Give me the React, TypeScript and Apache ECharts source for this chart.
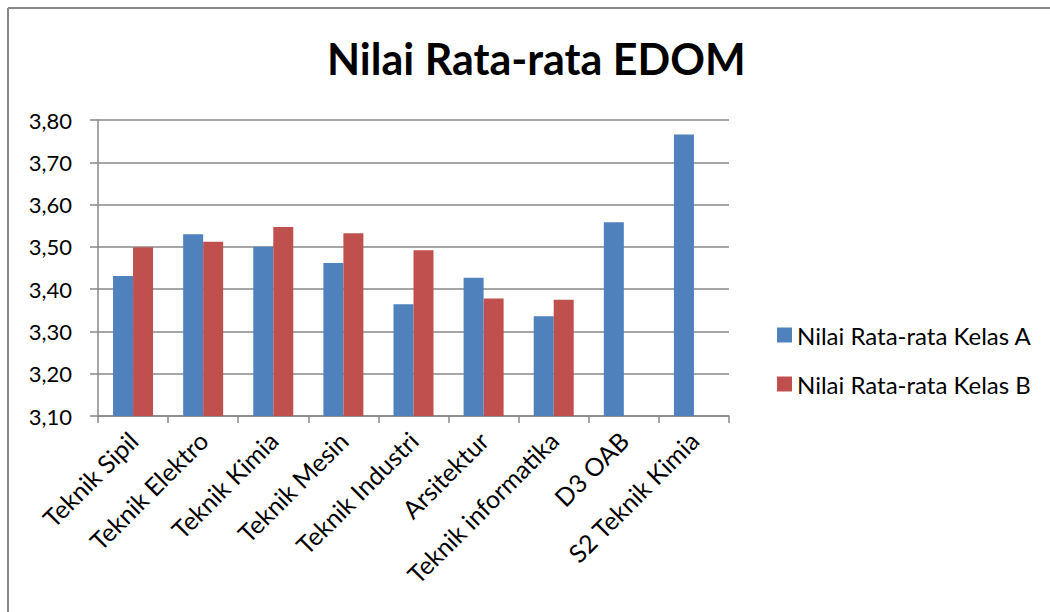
import React, { useEffect, useRef } from "react";
import * as echarts from "echarts";

const categories = [
  "Teknik Sipil",
  "Teknik Elektro",
  "Teknik Kimia",
  "Teknik Mesin",
  "Teknik Industri",
  "Arsitektur",
  "Teknik informatika",
  "D3 OAB",
  "S2 Teknik Kimia",
];
const kelasA = [3.431, 3.53, 3.5, 3.462, 3.364, 3.427, 3.336, 3.558, 3.766];
const kelasB = [3.499, 3.512, 3.547, 3.532, 3.492, 3.378, 3.375, null, null];
const seriesNames = ["Nilai Rata-rata Kelas A", "Nilai Rata-rata Kelas B"];
const titleText = "Nilai Rata-rata EDOM";

const FONT = "Lato, 'Open Sans', sans-serif";

export default function App() {
  const ref = useRef<HTMLDivElement>(null);
  useEffect(() => {
    if (!ref.current) return;
    const chart = echarts.init(ref.current, undefined, { renderer: "svg" });
    chart.setOption({
      animation: false,
      backgroundColor: "#ffffff",
      textStyle: { fontFamily: FONT },
      title: {
        text: titleText,
        left: 322,
        top: 32,
        textStyle: { fontFamily: FONT, fontSize: 43, fontWeight: "bold", color: "#000" },
      },
      legend: {
        orient: "vertical",
        left: 772,
        top: 318,
        itemWidth: 15,
        itemHeight: 15,
        itemGap: 25,
        icon: "rect",
        textStyle: { fontFamily: FONT, fontSize: 24, lineHeight: 24, color: "#000" },
        data: seriesNames,
      },
      grid: { left: 98, right: 321, top: 120, bottom: 196, containLabel: false },
      xAxis: {
        type: "category",
        data: categories,
        axisLine: { lineStyle: { color: "#888", width: 1.5 } },
        axisTick: { show: true, alignWithLabel: false, length: 7, lineStyle: { color: "#888", width: 1.5 } },
        axisLabel: {
          rotate: 45,
          interval: 0,
          fontFamily: FONT,
          fontSize: 25,
          color: "#000",
          margin: 20,
        },
      },
      yAxis: {
        type: "value",
        min: 3.1,
        max: 3.8,
        interval: 0.1,
        axisLine: { show: true, lineStyle: { color: "#888", width: 1.5 } },
        axisTick: { show: true, length: 8, lineStyle: { color: "#888", width: 1.5 } },
        splitLine: { lineStyle: { color: "#888", width: 1.5 } },
        axisLabel: {
          fontFamily: FONT,
          fontSize: 22,
          color: "#000",
          margin: 26,
          formatter: (v: number) => v.toFixed(2).replace(".", ","),
        },
      },
      series: [
        {
          name: seriesNames[0],
          type: "bar",
          data: kelasA,
          barWidth: 20,
          barGap: "0%",
          itemStyle: { color: "#4F81BD" },
        },
        {
          name: seriesNames[1],
          type: "bar",
          data: kelasB,
          barWidth: 20,
          barGap: "0%",
          itemStyle: { color: "#C0504D" },
        },
      ],
      graphic: [
        { type: "line", shape: { x1: 8, y1: 8, x2: 1050, y2: 8 }, style: { stroke: "#888", lineWidth: 2 } },
        { type: "line", shape: { x1: 8, y1: 8, x2: 8, y2: 612 }, style: { stroke: "#888", lineWidth: 2 } },
      ],
    });
    return () => chart.dispose();
  }, []);
  return (
    <div
      ref={ref}
      style={{ position: "fixed", left: 0, top: 0, width: 1050, height: 612 }}
    />
  );
}
